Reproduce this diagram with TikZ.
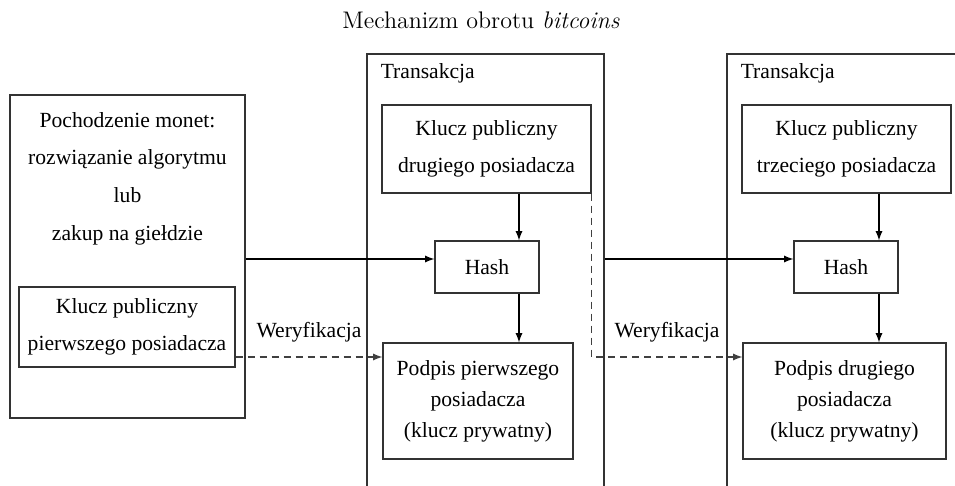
\documentclass[tikz,border=0pt]{standalone}
\usepackage{fontspec}
\newfontfamily\rzymski{Liberation Serif}
\usepackage{tikz}
\usetikzlibrary{arrows}

\tikzset{
  ramka/.style={draw=black!80, line width=0.6pt, inner sep=0pt},
  blok/.style={ramka, align=center, font={\rzymski\fontsize{10.8}{18.8}\selectfont}},
  podpis/.style={blok, font={\rzymski\fontsize{10.8}{15.5}\selectfont}},
  napis/.style={inner sep=0pt, font={\rzymski\fontsize{10.8}{18.8}\selectfont}},
  strz/.style={->, >=latex, line width=0.6pt},
  weryf/.style={strz, draw=black!75, dash pattern=on 3.5pt off 2.5pt}
}

\begin{document}
\begin{tikzpicture}[x=0.5pt, y=-0.5pt]
\useasboundingbox (0,0) rectangle (955,486);
\clip (0,0) rectangle (955,486);

\node[anchor=base, font=\large] (tytul) at (481,29) {Mechanizm obrotu \textit{bitcoins}};

% pochodzenie monet
\node[ramka, minimum width=117.5pt, minimum height=161.5pt] (zrodlo) at (127.5,256.5) {};
\node[napis, align=center] (pochodzenie) at (127.5,178.5) {Pochodzenie monet:\\ rozwiązanie algorytmu\\ lub\\ zakup na giełdzie};
\node[blok, minimum width=108pt, minimum height=40pt] (klucz1) at (127,327) {Klucz publiczny\\ pierwszego posiadacza};

% transakcje
\node[ramka, minimum width=118.5pt, minimum height=230pt] (trans1) at (485.5,284) {};
\node[ramka, minimum width=118.5pt, minimum height=230pt] (trans2) at (845.5,284) {};
\node[napis, anchor=base west] (tlabel1) at ([shift={(14,25)}]trans1.north west) {Transakcja};
\node[napis, anchor=base west] (tlabel2) at ([shift={(14,25)}]trans2.north west) {Transakcja};

\node[blok, minimum width=104.5pt, minimum height=44pt] (klucz2) at (486.5,149) {Klucz publiczny\\ drugiego posiadacza};
\node[blok, minimum width=52pt, minimum height=26pt] (hash1) at (487,267) {Hash};
\node[podpis, minimum width=95pt, minimum height=58pt] (podpis1) at (478,401) {Podpis pierwszego\\ posiadacza\\ (klucz prywatny)};

\node[blok, minimum width=104.5pt, minimum height=44pt] (klucz3) at (846.5,149) {Klucz publiczny\\ trzeciego posiadacza};
\node[blok, minimum width=52pt, minimum height=26pt] (hash2) at (846,267) {Hash};
\node[podpis, minimum width=101.5pt, minimum height=58pt] (podpis2) at (844.5,401) {Podpis drugiego\\ posiadacza\\ (klucz prywatny)};

\coordinate (poziom) at (0,259);
\coordinate (wer) at (0,357);
\coordinate (pion1) at (519,0);
\coordinate (pion2) at (879,0);

\draw[strz] (zrodlo.east |- poziom) -- (hash1.west |- poziom);
\draw[strz] (trans1.east |- poziom) -- (hash2.west |- poziom);
\draw[strz] (klucz2.south -| pion1) -- (hash1.north -| pion1);
\draw[strz] (hash1.south -| pion1) -- (podpis1.north -| pion1);
\draw[strz] (klucz3.south -| pion2) -- (hash2.north -| pion2);
\draw[strz] (hash2.south -| pion2) -- (podpis2.north -| pion2);

\draw[weryf] (klucz1.east |- wer) -- node[napis, above=7pt] (wer1) {Weryfikacja} (podpis1.west |- wer);
\draw[weryf] (klucz2.south east) |- node[napis, pos=0.75, above=7pt] (wer2) {Weryfikacja} (podpis2.west |- wer);
\end{tikzpicture}
\end{document}
